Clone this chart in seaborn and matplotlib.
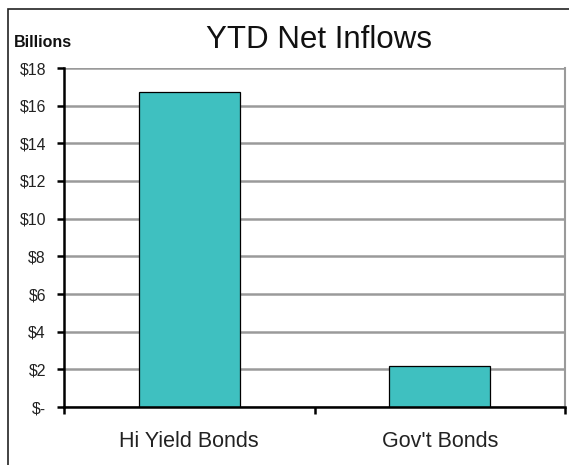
import matplotlib
matplotlib.use("Agg")
import matplotlib.pyplot as plt
import seaborn as sns
import pandas as pd
from matplotlib.patches import Rectangle

categories = ["Hi Yield Bonds", "Gov't Bonds"]
values = [16.75, 2.2]
ytick_values = [0, 2, 4, 6, 8, 10, 12, 14, 16, 18]
ytick_labels = ["$-", "$2", "$4", "$6", "$8", "$10", "$12", "$14", "$16", "$18"]

sns.set_theme(style="white")
plt.rcParams['font.family'] = ['Liberation Sans', 'DejaVu Sans']

W, H = 569, 465
fig = plt.figure(figsize=(W / 100, H / 100), dpi=100)
fig.patch.set_facecolor("white")

# outer frame
fig.add_artist(Rectangle((8 / W, -0.1), 1.2, 1 - 9 / H + 0.1, transform=fig.transFigure,
                         fill=False, edgecolor="#222222", linewidth=1.2))

ax = fig.add_axes([64 / W, 1 - 407 / H, (565 - 64) / W, (407 - 68) / H])
df = pd.DataFrame({"cat": categories, "val": values})
sns.barplot(data=df, x="cat", y="val", ax=ax, color="#3FC0C0", width=0.405,
            edgecolor="black", linewidth=0.9, saturation=1, zorder=3)

ax.set_xlim(-0.5, 1.5)
ax.set_ylim(0, 18)
ax.set_xlabel("")
ax.set_ylabel("")
ax.set_yticks(ytick_values)
ax.set_yticklabels(ytick_labels, fontsize=11.4, color="#222222")
ax.yaxis.grid(True, color="#9a9a9a", linewidth=1.8, zorder=0)
ax.set_axisbelow(True)

ax.set_xticks([0, 1])
ax.set_xticklabels(categories, fontsize=15.5, color="#222222")
ax.tick_params(axis="x", which="major", length=0, pad=17)
ax.set_xticks([-0.5, 0.5, 1.5], minor=True)
ax.tick_params(axis="x", which="minor", direction="out", length=5, width=1.8, color="black", bottom=True)
ax.tick_params(axis="y", which="major", direction="out", length=5, width=1.8, color="black", left=True, pad=8)

ax.spines["top"].set_visible(False)
ax.spines["right"].set_color("#9a9a9a")
ax.spines["right"].set_linewidth(1.5)
for s in ["left", "bottom"]:
    ax.spines[s].set_color("black")
    ax.spines[s].set_linewidth(1.8)
    ax.spines[s].set_zorder(4)

fig.text(319.5 / W, 1 - 48 / H, "YTD Net Inflows", ha="center", va="baseline", fontsize=22.5, color="#111111")
fig.text(14 / W, 1 - 47 / H, "Billions", ha="left", va="baseline", fontsize=11.5, fontweight="bold", color="#111111")

fig.savefig("out.png", dpi=100)
